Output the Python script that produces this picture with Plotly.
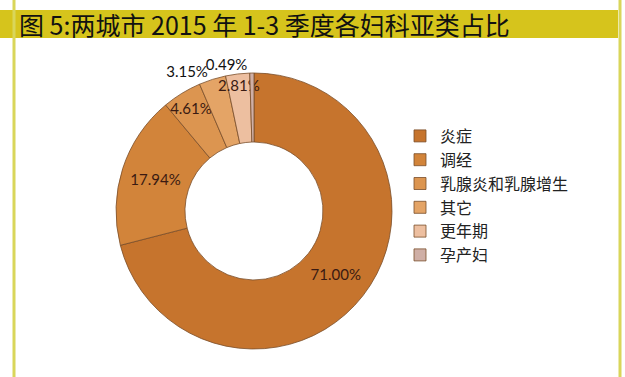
import plotly.graph_objects as go

categories = ["炎症", "调经", "乳腺炎和乳腺增生", "其它", "更年期", "孕产妇"]
shares = [71.00, 17.94, 4.61, 3.15, 2.81, 0.49]
label_texts = ["71.00%", "17.94%", "4.61%", "3.15%", "2.81%", "0.49%"]
label_positions = ["inside", "inside", "inside", "outside", "inside", "outside"]
colors = ["#C6742D", "#D2843A", "#DC9550", "#E4A466", "#EDBFA0", "#CFAFA6"]
title_text = "图 5:两城市 2015 年 1-3 季度各妇科亚类占比"

W, H = 625, 377
# the smallest slice gets its label from a second, see-through copy of the ring
main_texts = [t if i != len(shares) - 1 else "" for i, t in enumerate(label_texts)]
small_texts = ["" if i != len(shares) - 1 else t for i, t in enumerate(label_texts)]

domain = dict(x=[116 / W, 392 / W], y=[1 - 349 / H, 1 - 73 / H])
label_font = "Lato, Liberation Sans, sans-serif"

fig = go.Figure()
fig.add_trace(go.Pie(
    labels=categories,
    values=shares,
    text=main_texts,
    textinfo="text",
    textposition=label_positions,
    insidetextorientation="horizontal",
    hole=0.5,
    sort=False,
    direction="clockwise",
    rotation=0,
    marker=dict(colors=colors, line=dict(color="#7A4E2A", width=0.8)),
    textfont=dict(family=label_font, size=15, color="#3A1A12"),
    outsidetextfont=dict(family=label_font, size=15, color="#111111"),
    domain=domain,
    showlegend=True,
))
fig.add_trace(go.Pie(
    labels=categories,
    values=shares,
    text=small_texts,
    textinfo="text",
    textposition="outside",
    hole=0.5,
    sort=False,
    direction="clockwise",
    rotation=0,
    marker=dict(colors=["rgba(0,0,0,0)"] * len(shares), line=dict(width=0)),
    outsidetextfont=dict(family=label_font, size=15, color="#111111"),
    domain=domain,
    showlegend=False,
    hoverinfo="skip",
))

fig.update_layout(
    width=W, height=H,
    margin=dict(l=0, r=0, t=0, b=0),
    paper_bgcolor="white",
    plot_bgcolor="white",
    uniformtext=dict(minsize=15, mode="show"),
    legend=dict(
        x=400 / W, y=1 - 119 / H, xanchor="left", yanchor="top",
        font=dict(family="Noto Sans CJK SC, sans-serif", size=16, color="#222222"),
        bgcolor="rgba(0,0,0,0)",
        itemwidth=30,
        tracegroupgap=0,
    ),
    shapes=[
        dict(type="rect", xref="paper", yref="paper",
             x0=0, x1=618 / W, y0=1 - 38 / H, y1=1 - 10 / H,
             fillcolor="#D6C41C", line=dict(width=0), layer="below"),
        dict(type="line", xref="paper", yref="paper",
             x0=14 / W, x1=14 / W, y0=0, y1=1,
             line=dict(color="#D9D65A", width=3)),
        dict(type="line", xref="paper", yref="paper",
             x0=620 / W, x1=620 / W, y0=0, y1=1,
             line=dict(color="#D9D65A", width=3)),
    ],
    annotations=[
        dict(text=title_text, xref="paper", yref="paper",
             x=17 / W, y=1 - 24 / H, xanchor="left", yanchor="middle",
             showarrow=False,
             font=dict(family="Noto Sans CJK SC, sans-serif", size=25, color="#111111")),
    ],
)

fig.write_html(
    "out.html",
    config={"displayModeBar": False},
    post_script="document.body.style.margin='0';document.body.style.overflow='hidden';",
)
